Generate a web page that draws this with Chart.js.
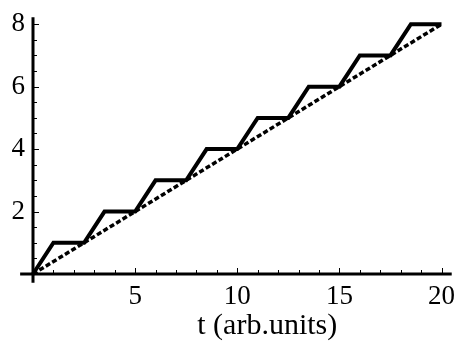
<!DOCTYPE html>
<html>
<head>
<meta charset="utf-8">
<script src="https://cdn.jsdelivr.net/npm/chart.js"></script>
<style>
  body { margin: 0; background: #fff; }
  #wrap { width: 462px; height: 343px; position: relative; }
</style>
</head>
<body>
<div id="wrap"><canvas id="c"></canvas></div>
<script>
// staircase signal (solid) and the mean ramp (dashed)
const stairT = [0, 1, 2.5, 3.5, 5, 6, 7.5, 8.5, 10, 11, 12.5, 13.5, 15, 16, 17.5, 18.5, 20];
const stairY = [0, 1, 1, 2, 2, 3, 3, 4, 4, 5, 5, 6, 6, 7, 7, 8, 8];
const rampT = [0, 20];
const rampY = [0, 8];

// axis ranges and tick labels
const xRange = [0, 20];
const yRange = [0, 8];
const xLabelTicks = [5, 10, 15, 20];
const yLabelTicks = [2, 4, 6, 8];
const xTitle = 't (arb.units)';

const serif = "'Liberation Serif', 'Times New Roman', serif";

const toPoints = (xs, ys) => xs.map((x, i) => ({ x: x, y: ys[i] }));

// Mathematica-like axes: thick lines crossing at the origin, ticks pointing inward
const axesPlugin = {
  id: 'axes',
  afterDraw(chart) {
    const { ctx, scales: { x, y } } = chart;
    const x0 = x.getPixelForValue(0);
    const y0 = y.getPixelForValue(0);
    ctx.save();
    ctx.strokeStyle = '#000';
    ctx.lineCap = 'butt';

    ctx.lineWidth = 3;
    ctx.beginPath();
    ctx.moveTo(x.getPixelForValue(-0.63), y0);
    ctx.lineTo(x.getPixelForValue(20.5), y0);
    ctx.moveTo(x0, y.getPixelForValue(-0.28));
    ctx.lineTo(x0, y.getPixelForValue(8.22));
    ctx.stroke();

    ctx.lineWidth = 1;
    ctx.beginPath();
    for (let t = 1; t <= 20; t++) {
      const px = Math.round(x.getPixelForValue(t)) + 0.5;
      const len = t % 5 === 0 ? 5 : 3;
      ctx.moveTo(px, y0 - 1);
      ctx.lineTo(px, y0 - 1 - len);
    }
    for (let v = 0.5; v <= 8; v += 0.5) {
      const py = Math.round(y.getPixelForValue(v)) + 0.5;
      const len = v % 2 === 0 ? 5 : 3;
      ctx.moveTo(x0 + 1, py);
      ctx.lineTo(x0 + 1 + len, py);
    }
    ctx.stroke();
    ctx.restore();
  }
};

new Chart(document.getElementById('c'), {
  type: 'scatter',
  data: {
    datasets: [
      {
        data: toPoints(stairT, stairY),
        showLine: true,
        borderColor: '#000',
        borderWidth: 4,
        borderJoinStyle: 'miter',
        pointRadius: 0,
        tension: 0,
        clip: false
      },
      {
        data: toPoints(rampT, rampY),
        showLine: true,
        borderColor: '#000',
        borderWidth: 3.5,
        borderDash: [5, 2.5],
        pointRadius: 0,
        clip: false
      }
    ]
  },
  options: {
    responsive: true,
    maintainAspectRatio: false,
    animation: false,
    layout: { padding: { top: 19, right: 14, left: 0, bottom: 0 } },
    plugins: {
      legend: { display: false },
      tooltip: { enabled: false }
    },
    scales: {
      x: {
        type: 'linear',
        min: xRange[0],
        max: xRange[1],
        grid: { display: false, drawTicks: false },
        border: { display: false },
        afterFit(s) { s.height = 69; },
        afterBuildTicks(s) { s.ticks = xLabelTicks.map(v => ({ value: v })); },
        ticks: {
          color: '#000',
          padding: 7,
          maxRotation: 0,
          autoSkip: false,
          font: { family: serif, size: 27 }
        },
        title: {
          display: true,
          text: '        ' + xTitle,
          color: '#000',
          padding: { top: 0, bottom: 0 },
          font: { family: serif, size: 30, lineHeight: 1.1 }
        }
      },
      y: {
        type: 'linear',
        min: yRange[0],
        max: yRange[1],
        grid: { display: false, drawTicks: false },
        border: { display: false },
        afterFit(s) { s.width = 33; },
        afterBuildTicks(s) { s.ticks = yLabelTicks.map(v => ({ value: v })); },
        ticks: {
          color: '#000',
          padding: 8,
          autoSkip: false,
          font: { family: serif, size: 27 }
        }
      }
    }
  },
  plugins: [axesPlugin]
});
</script>
</body>
</html>
